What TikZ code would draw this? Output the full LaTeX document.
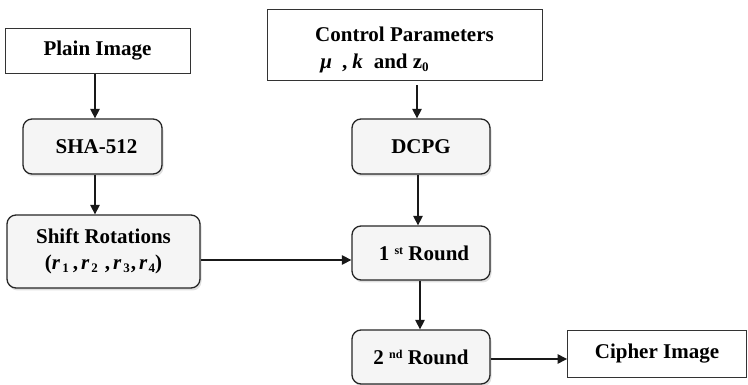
\documentclass[tikz,border=0pt]{standalone}
\usepackage{fontspec}
\setmainfont{Liberation Serif}
\usetikzlibrary{shadows,arrows.meta,calc}
\newcommand{\supr}[1]{\raisebox{0.55ex}{\fontsize{12}{12}\selectfont #1}}
\newcommand{\subr}[1]{\raisebox{-0.3ex}{\fontsize{13}{13}\selectfont #1}}
\tikzset{
  plainbox/.style={draw=black!80, line width=0.9pt, fill=white, align=center, inner sep=0pt,
    font=\fontsize{21}{28}\selectfont\bfseries},
  roundbox/.style={draw=black!85, line width=1.3pt, fill=black!4, rounded corners=9pt, align=center, inner sep=0pt,
    font=\fontsize{21}{26}\selectfont\bfseries,
    drop shadow={opacity=0.25, shadow xshift=1.5pt, shadow yshift=-2.5pt}},
  arr/.style={line width=1.4pt, draw=black!90, -{Triangle[length=9.5pt,width=9.5pt]}}
}
\begin{document}
\begin{tikzpicture}[x=1pt,y=-1pt]
\useasboundingbox (0,0) rectangle (748,385);
\node[plainbox, minimum width=185pt, minimum height=45pt] (plain) at (97.5,51) {Plain Image};
\node[plainbox, minimum width=275pt, minimum height=71pt] (ctrl) at (404.5,44.5)
  {\rule{0pt}{25pt}Control Parameters\\[-1pt] \hspace*{-60pt}\textit{μ}\hspace{10pt},\hspace{5pt}\textit{k}\hspace{11pt}and z\subr{0}};
\node[roundbox, minimum width=139pt, minimum height=55pt] (sha) at (92.5,146.5) {\hspace*{8pt}SHA-512};
\node[roundbox, minimum width=138pt, minimum height=55pt] (dcpg) at (421,146.5) {DCPG};
\node[roundbox, minimum width=193pt, minimum height=73pt] (shift) at (103.5,251.5)
  {Shift Rotations\\(\textit{r}\hspace{2pt}\subr{1}\hspace{4pt},\hspace{3pt}\textit{r}\hspace{2pt}\subr{2}\hspace{7pt},\hspace{3pt}\textit{r}\hspace{2pt}\subr{3}\hspace{1pt},\hspace{3pt}\textit{r}\hspace{1pt}\subr{4})};
\node[roundbox, minimum width=138pt, minimum height=54pt] (r1) at (421,253) {\hspace*{6pt}1 \supr{st} Round};
\node[roundbox, minimum width=138pt, minimum height=54pt] (r2) at (421,357) {2 \supr{nd} Round};
\node[plainbox, minimum width=179pt, minimum height=47pt] (cipher) at (657,353.5) {Cipher Image};

\draw[arr] ([xshift=-2.5pt]plain.south) -- ([xshift=2.5pt]sha.north);
\draw[arr] ([xshift=2.5pt]sha.south) -- ([xshift=-8.5pt]shift.north);
\draw[arr, shorten <=5pt] ([xshift=12.5pt]ctrl.south) -- ([xshift=-4pt]dcpg.north);
\draw[arr] ([xshift=-3pt]dcpg.south) -- ([xshift=-3pt]r1.north);
\draw[arr] ([xshift=-1pt]r1.south) -- ([xshift=-1pt]r2.north);
\draw[arr] ([yshift=-8.5pt]shift.east) -- ([yshift=-7pt]r1.west);
\draw[arr] ([yshift=-2pt]r2.east) -- ([yshift=-5.5pt]cipher.west);
\end{tikzpicture}
\end{document}
